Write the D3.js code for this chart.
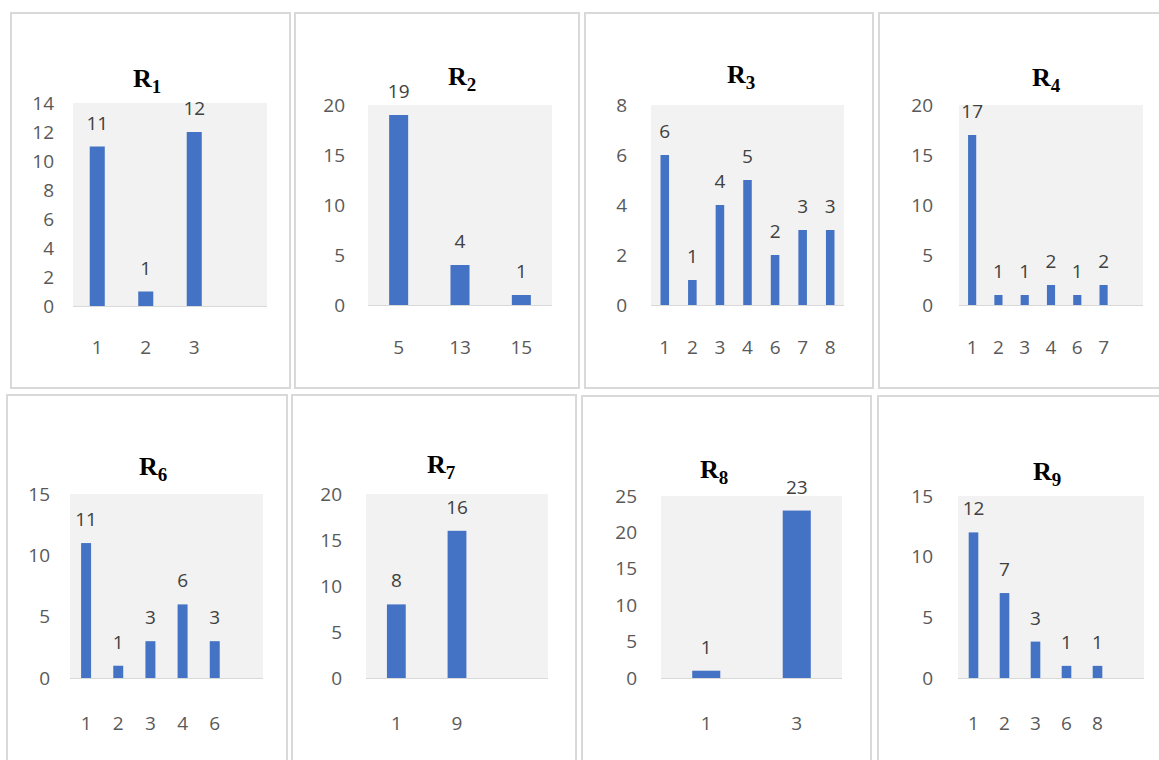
<!DOCTYPE html>
<html>
<head>
<meta charset="utf-8">
<script src="https://cdn.jsdelivr.net/npm/d3@7"></script>
<style>
  html, body { margin: 0; padding: 0; background: #ffffff; }
  svg { display: block; }
</style>
</head>
<body>
<svg id="chart" width="1159" height="760"></svg>
<script>
// ---- data ----
const titleSubs = ["1", "2", "3", "4", "6", "7", "8", "9"];
const categoriesR1 = ["1", "2", "3"];
const valuesR1 = [11, 1, 12];
const categoriesR2 = ["5", "13", "15"];
const valuesR2 = [19, 4, 1];
const categoriesR3 = ["1", "2", "3", "4", "6", "7", "8"];
const valuesR3 = [6, 1, 4, 5, 2, 3, 3];
const categoriesR4 = ["1", "2", "3", "4", "6", "7"];
const valuesR4 = [17, 1, 1, 2, 1, 2];
const categoriesR6 = ["1", "2", "3", "4", "6"];
const valuesR6 = [11, 1, 3, 6, 3];
const categoriesR7 = ["1", "9"];
const valuesR7 = [8, 16];
const categoriesR8 = ["1", "3"];
const valuesR8 = [1, 23];
const categoriesR9 = ["1", "2", "3", "6", "8"];
const valuesR9 = [12, 7, 3, 1, 1];
const yMaxes = [14, 20, 8, 20, 15, 20, 25, 15];
const yTickSteps = [2, 5, 2, 5, 5, 5, 5, 5];
// number of category slots on each x axis (Excel kept empty slots)
const slotCounts = [4, 3, 7, 7, 6, 3, 2, 6];

const allCategories = [categoriesR1, categoriesR2, categoriesR3, categoriesR4, categoriesR6, categoriesR7, categoriesR8, categoriesR9];
const allValues = [valuesR1, valuesR2, valuesR3, valuesR4, valuesR6, valuesR7, valuesR8, valuesR9];

// ---- layout (pixels) ----
const boxes = [
  {x: 11, y: 13, w: 279, h: 375},
  {x: 295, y: 13, w: 284, h: 375},
  {x: 585, y: 13, w: 288, h: 375},
  {x: 879, y: 13, w: 290, h: 375},
  {x: 7, y: 395, w: 280, h: 380},
  {x: 292, y: 395, w: 284, h: 380},
  {x: 582, y: 396, w: 289, h: 380},
  {x: 878, y: 396, w: 290, h: 380}
];
const plots = [
  {l: 73, r: 267, t: 103, b: 306, tickGap: 19, catY: 354, titleX: 133, titleY: 87},
  {l: 368, r: 552, t: 105, b: 305, tickGap: 23, catY: 354, titleX: 448, titleY: 85},
  {l: 651, r: 844, t: 105, b: 305, tickGap: 24, catY: 354, titleX: 727, titleY: 83},
  {l: 959, r: 1143, t: 105, b: 305, tickGap: 26, catY: 354, titleX: 1032, titleY: 86},
  {l: 70, r: 263, t: 494, b: 678, tickGap: 20, catY: 730, titleX: 139, titleY: 475},
  {l: 366, r: 548, t: 494, b: 678, tickGap: 24, catY: 730, titleX: 427, titleY: 473},
  {l: 661, r: 842, t: 496, b: 678, tickGap: 24, catY: 730, titleX: 700, titleY: 478},
  {l: 958, r: 1144, t: 496, b: 678, tickGap: 25, catY: 730, titleX: 1033, titleY: 480}
];

const BAR = "#4472c4";
const FONT = "'Open Sans', sans-serif";
const FS = 19;
const svg = d3.select("#chart");

boxes.forEach((bx, i) => {
  const p = plots[i];
  const g = svg.append("g");

  g.append("rect")
    .attr("x", bx.x).attr("y", bx.y).attr("width", bx.w).attr("height", bx.h)
    .attr("fill", "#ffffff").attr("stroke", "#d9d9d9").attr("stroke-width", 2);

  const x = d3.scaleBand()
    .domain(d3.range(slotCounts[i]))
    .range([p.l, p.r])
    .paddingInner(0.69).paddingOuter(0.345);
  const y = d3.scaleLinear().domain([0, yMaxes[i]]).range([p.b, p.t]);

  g.append("rect")
    .attr("x", p.l).attr("y", p.t).attr("width", p.r - p.l).attr("height", p.b - p.t)
    .attr("fill", "#f2f2f2");

  // y axis labels
  const ticks = d3.range(0, yMaxes[i] + 0.001, yTickSteps[i]);
  const yAxis = d3.axisLeft(y).tickValues(ticks).tickSize(0).tickPadding(p.tickGap);
  const ya = g.append("g").attr("transform", `translate(${p.l},0)`).call(yAxis);
  ya.select(".domain").remove();
  ya.selectAll("text").attr("font-family", FONT).attr("font-size", FS).attr("fill", "#595959");

  // x axis
  const cats = allCategories[i];
  const xAxis = d3.axisBottom(x).tickValues(d3.range(cats.length))
    .tickFormat(k => cats[k]).tickSize(0).tickPadding(0);
  const xa = g.append("g").attr("transform", `translate(0,${p.b})`).call(xAxis);
  xa.select(".domain").attr("stroke", "#d9d9d9").attr("d", `M${p.l},0.5H${p.r}`);
  xa.selectAll("text").attr("font-family", FONT).attr("font-size", FS).attr("fill", "#595959")
    .attr("dy", null).attr("y", p.catY - p.b);

  const vals = allValues[i];
  const data = vals.map((v, k) => ({k, v}));

  g.selectAll("rect.bar").data(data).join("rect")
    .attr("class", "bar")
    .attr("x", d => x(d.k)).attr("width", x.bandwidth())
    .attr("y", d => y(d.v)).attr("height", d => y(0) - y(d.v))
    .attr("fill", BAR);

  g.selectAll("text.lbl").data(data).join("text")
    .attr("class", "lbl")
    .attr("x", d => x(d.k) + x.bandwidth() / 2)
    .attr("y", d => y(d.v) - 17)
    .attr("text-anchor", "middle")
    .attr("font-family", FONT).attr("font-size", FS).attr("fill", "#404040")
    .text(d => d.v);

  const t = g.append("text")
    .attr("x", p.titleX).attr("y", p.titleY)
    .attr("font-family", "'Liberation Serif', 'Times New Roman', serif")
    .attr("font-weight", "bold").attr("fill", "#000000");
  t.append("tspan").attr("font-size", 26).text("R");
  t.append("tspan").attr("font-size", 19).attr("dy", 6).text(titleSubs[i]);
});
</script>
</body>
</html>
